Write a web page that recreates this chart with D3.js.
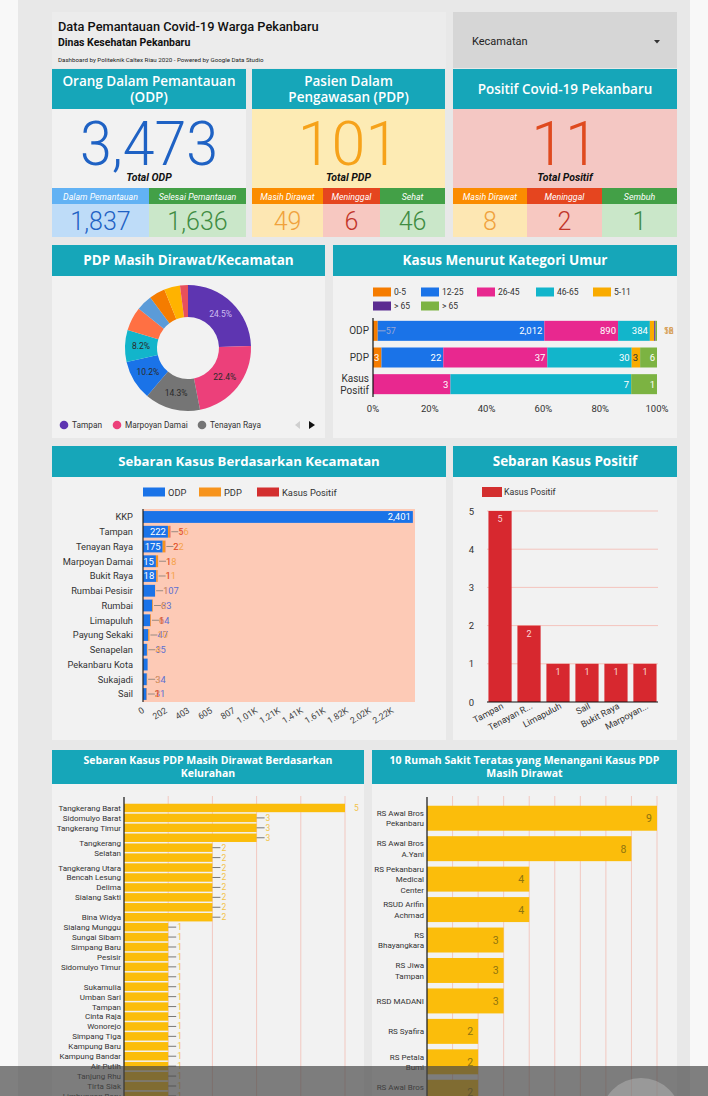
<!DOCTYPE html>
<html><head><meta charset="utf-8">
<script src="https://cdn.jsdelivr.net/npm/d3@7/dist/d3.min.js"></script>
<style>body{margin:0;background:#f8f8f8;} svg{display:block;font-family:Roboto,sans-serif;}</style>
</head><body><svg id="c" width="708" height="1096"></svg>
<script>
// ---------------- DATA ----------------
const odpTotal = 3473, pdpTotal = 101, posTotal = 11;
const odpSubLabels = ["Dalam Pemantauan", "Selesai Pemantauan"];
const odpSubValues = [1837, 1636];
const pdpSubLabels = ["Masih Dirawat", "Meninggal", "Sehat"];
const pdpSubValues = [49, 6, 46];
const posSubLabels = ["Masih Dirawat", "Meninggal", "Sembuh"];
const posSubValues = [8, 2, 1];

const donutNames = ["Tampan","Marpoyan Damai","Tenayan Raya","Bukit Raya","Rumbai Pesisir","Payung Sekaki","Limapuluh","Sail","Senapelan","Rumbai"];
const donutValues = [12, 11, 7, 5, 4, 3, 2, 2, 2, 1];
const donutLegendNames = ["Tampan","Marpoyan Damai","Tenayan Raya"];

const ageGroups = ["0-5","12-25","26-45","46-65","5-11","> 65","> 65 "];
const ageRows = ["ODP","PDP","Kasus Positif"];
const ageODP = [57, 2012, 890, 384, 52, 16, 18];
const agePDP = [3, 22, 37, 30, 3, 0, 6];
const agePos = [0, 0, 3, 7, 0, 0, 1];
const ageTicks = [0, 0.2, 0.4, 0.6, 0.8, 1];

const kecNames = ["KKP","Tampan","Tenayan Raya","Marpoyan Damai","Bukit Raya","Rumbai Pesisir","Rumbai","Limapuluh","Payung Sekaki","Senapelan","Pekanbaru Kota","Sukajadi","Sail"];
const kecODP = [2401, 222, 175, 115, 118, 107, 83, 64, 47, 35, 41, 34, 31];
const kecPDP = [0, 16, 22, 18, 11, 1, 6, 6, 10, 4, 0, 3, 2];
const kecPos = [0, 5, 2, 1, 1, 0, 0, 1, 0, 0, 0, 0, 1];
const kecMax = 2420;
const kecTicks = [0, 202, 403, 605, 807, 1008, 1210, 1412, 1613, 1815, 2017, 2218];
const kecTickLabels = ["0","202","403","605","807","1.01K","1.21K","1.41K","1.61K","1.82K","2.02K","2.22K"];

const posNames = ["Tampan","Tenayan Raya","Limapuluh","Sail","Bukit Raya","Marpoyan Damai"];
const posTickLabels = ["Tampan","Tenayan R...","Limapuluh","Sail","Bukit Raya","Marpoyan..."];
const posValues = [5, 2, 1, 1, 1, 1];
const posTicks = [0, 1, 2, 3, 4, 5];

const kelNames = ["Tangkerang Barat","Sidomulyo Barat","Tangkerang Timur","Tuah Karya","Tangkerang Selatan","Maharatu","Tangkerang Utara","Bencah Lesung","Delima","Sialang Sakti","Rejosari","Bina Widya","Sialang Munggu","Sungai Sibam","Simpang Baru","Pesisir","Sidomulyo Timur","Labuh Baru Timur","Sukamulia","Umban Sari","Tampan","Cinta Raja","Wonorejo","Simpang Tiga","Kampung Baru","Kampung Bandar","Air Putih","Tanjung Rhu","Tirta Siak","Limbungan Baru","Sri Meranti"];
const kelValues = [5,3,3,3,2,2,2,2,2,2,2,2,1,1,1,1,1,1,1,1,1,1,1,1,1,1,1,1,1,1,1];
const kelTickLabels = ["Tangkerang Barat","Sidomulyo Barat","Tangkerang Timur","","Tangkerang|Selatan","","Tangkerang Utara","Bencah Lesung","Delima","Sialang Sakti","","Bina Widya","Sialang Munggu","Sungai Sibam","Simpang Baru","Pesisir","Sidomulyo Timur","","Sukamulia","Umban Sari","Tampan","Cinta Raja","Wonorejo","Simpang Tiga","Kampung Baru","Kampung Bandar","Air Putih","Tanjung Rhu","Tirta Siak","Limbungan Baru",""];

const hospNames = ["RS Awal Bros|Pekanbaru","RS Awal Bros|A.Yani","RS Pekanbaru|Medical|Center","RSUD Arifin|Achmad","RS|Bhayangkara","RS Jiwa|Tampan","RSD MADANI","RS Syafira","RS Petala|Bumi","RS Awal Bros|Panam"];
const hospValues = [9, 8, 4, 4, 3, 3, 3, 2, 2, 2];

// ---------------- DRAW ----------------
const svg = d3.select("#c");
const W = 708, H = 1096;
const TEAL = "#16a6b9", PANEL = "#f2f2f2", TITLEFONT = "'Open Sans',sans-serif";
svg.append("rect").attr("width", W).attr("height", H).attr("fill", "#f8f8f8");
svg.append("rect").attr("x", 18).attr("width", 672).attr("height", H).attr("fill", "#e8e8e8");

function panel(x, y, w, h, lines, th, fs) {
  svg.append("rect").attr("x", x).attr("y", y).attr("width", w).attr("height", h).attr("fill", PANEL);
  svg.append("rect").attr("x", x).attr("y", y).attr("width", w).attr("height", th).attr("fill", TEAL);
  const lh = fs * 1.22, n = lines.length;
  lines.forEach((l, i) => svg.append("text").attr("x", x + w / 2)
    .attr("y", y + th / 2 + (i - (n - 1) / 2) * lh + fs * 0.36)
    .attr("text-anchor", "middle").attr("fill", "#fff").attr("font-family", TITLEFONT)
    .attr("font-weight", 700).attr("font-size", fs).text(l));
}

// header
svg.append("rect").attr("x", 52).attr("y", 12).attr("width", 394).attr("height", 56).attr("fill", "#ececec");
svg.append("text").attr("x", 58).attr("y", 31).attr("font-size", 12.8).attr("font-weight", 500).attr("fill", "#111").text("Data Pemantauan Covid-19 Warga Pekanbaru");
svg.append("text").attr("x", 58).attr("y", 46).attr("font-size", 10.5).attr("font-weight", 700).attr("fill", "#111").text("Dinas Kesehatan Pekanbaru");
svg.append("text").attr("x", 58).attr("y", 62).attr("font-size", 6.2).attr("fill", "#222").text("Dashboard by Politeknik Caltex Riau 2020 - Powered by Google Data Studio");
svg.append("rect").attr("x", 453).attr("y", 12).attr("width", 224).attr("height", 56).attr("fill", "#d6d6d6");
svg.append("text").attr("x", 472).attr("y", 45).attr("font-size", 11).attr("fill", "#222").text("Kecamatan");
svg.append("path").attr("d", "M654,40 L660,40 L657,43.5 Z").attr("fill", "#333");

// KPI cards
function kpi(x, w, lines, bg, total, numColor, label, tl, subs) {
  svg.append("rect").attr("x", x).attr("y", 69).attr("width", w).attr("height", 40).attr("fill", TEAL);
  const n = lines.length;
  lines.forEach((l, i) => svg.append("text").attr("x", x + w / 2).attr("y", 89 + (i - (n - 1) / 2) * 16 + 5)
    .attr("text-anchor", "middle").attr("fill", "#fff").attr("font-family", TITLEFONT)
    .attr("font-weight", 600).attr("font-size", 13.5).text(l));
  svg.append("rect").attr("x", x).attr("y", 109).attr("width", w).attr("height", 79).attr("fill", bg);
  const big = svg.append("text").attr("x", x + w / 2).attr("y", 165).attr("text-anchor", "middle").attr("font-size", 61)
    .attr("font-weight", 300).attr("fill", numColor).text(d3.format(",")(total));
  if (tl) big.attr("textLength", tl).attr("lengthAdjust", "spacingAndGlyphs");
  svg.append("text").attr("x", x + w / 2).attr("y", 181).attr("text-anchor", "middle").attr("font-size", 10.5)
    .attr("font-weight", 700).attr("font-style", "italic").attr("fill", "#111").text(label);
  let cx = x;
  subs.forEach(s => {
    svg.append("rect").attr("x", cx).attr("y", 188).attr("width", s.w).attr("height", 16).attr("fill", s.hdr);
    svg.append("rect").attr("x", cx).attr("y", 204).attr("width", s.w).attr("height", 33).attr("fill", s.bg);
    svg.append("text").attr("x", cx + s.w / 2).attr("y", 199.5).attr("text-anchor", "middle").attr("font-size", 8.8)
      .attr("font-style", "italic").attr("fill", "#fff").text(s.label);
    svg.append("text").attr("x", cx + s.w / 2).attr("y", 230).attr("text-anchor", "middle").attr("font-size", 25)
      .attr("font-weight", 300).attr("fill", s.color).text(d3.format(",")(s.value));
    cx += s.w;
  });
}
const BLUEH = "#62b2f4", GREENH = "#43a047", ORANGEH = "#fb8c00", REDH = "#e5451f";
kpi(52, 194, ["Orang Dalam Pemantauan", "(ODP)"], "#f2f2f2", odpTotal, "#1f62c4", "Total ODP", 138, [
  { label: odpSubLabels[0], value: odpSubValues[0], w: 97, hdr: BLUEH, bg: "#bedcf8", color: "#1f62c4" },
  { label: odpSubLabels[1], value: odpSubValues[1], w: 97, hdr: GREENH, bg: "#cae7c9", color: "#3f8c42" }]);
kpi(252, 193, ["Pasien Dalam", "Pengawasan (PDP)"], "#fdebb4", pdpTotal, "#f6a21a", "Total PDP", null, [
  { label: pdpSubLabels[0], value: pdpSubValues[0], w: 71, hdr: ORANGEH, bg: "#fde7b3", color: "#f0a23c" },
  { label: pdpSubLabels[1], value: pdpSubValues[1], w: 57, hdr: REDH, bg: "#f7c8c1", color: "#c2352a" },
  { label: pdpSubLabels[2], value: pdpSubValues[2], w: 65, hdr: GREENH, bg: "#cae7c9", color: "#3f8c42" }]);
kpi(453, 224, ["Positif Covid-19 Pekanbaru"], "#f4c7c3", posTotal, "#df4a1f", "Total Positif", null, [
  { label: posSubLabels[0], value: posSubValues[0], w: 74, hdr: ORANGEH, bg: "#fde7b3", color: "#f0a23c" },
  { label: posSubLabels[1], value: posSubValues[1], w: 75, hdr: REDH, bg: "#f7c8c1", color: "#c2352a" },
  { label: posSubLabels[2], value: posSubValues[2], w: 75, hdr: GREENH, bg: "#cae7c9", color: "#3f8c42" }]);

// ---------- Donut ----------
panel(52, 245, 273, 193, ["PDP Masih Dirawat/Kecamatan"], 31, 13.5);
const donutColors = ["#5e35b1","#ec407a","#757575","#1a73e8","#12b5cb","#ff7043","#5b9bd8","#f57c00","#ffb300","#e8505b"];
const pie = d3.pie().sort(null).value(d => d)(donutValues);
const arc = d3.arc().innerRadius(31).outerRadius(63);
const labArc = d3.arc().innerRadius(47).outerRadius(47);
const dg = svg.append("g").attr("transform", "translate(188,348)");
dg.selectAll("path").data(pie).join("path").attr("d", arc).attr("fill", (d, i) => donutColors[i]);
const dsum = d3.sum(donutValues);
dg.selectAll("text").data(pie.filter(d => d.value / dsum >= 0.08)).join("text")
  .attr("transform", d => `translate(${labArc.centroid(d)})`).attr("dy", "0.35em")
  .attr("text-anchor", "middle").attr("font-size", 8.5)
  .attr("fill", (d) => d.index === 0 ? "#cdbdf0" : "#2a2a2a")
  .text(d => d3.format(".1%")(d.value / dsum));
const legX = [64, 117, 202];
donutLegendNames.forEach((nm, i) => {
  svg.append("circle").attr("cx", legX[i]).attr("cy", 425).attr("r", 4.3).attr("fill", donutColors[i]);
  svg.append("text").attr("x", legX[i] + 8).attr("y", 428).attr("font-size", 8.3).attr("fill", "#333").text(nm);
});
svg.append("path").attr("d", "M300,421 L300,429 L295,425 Z").attr("fill", "#cfcfcf");
svg.append("path").attr("d", "M309,421 L309,429 L315,425 Z").attr("fill", "#111");

// ---------- Age chart ----------
panel(333, 245, 344, 193, ["Kasus Menurut Kategori Umur"], 31, 13.5);
const ageColors = ["#f57c00","#1a73e8","#e8288f","#12b5cb","#f9ab00","#5b2c91","#7cb342"];
const ageLegX = [373, 421, 477, 536, 593, 373, 421];
const ageLegY = [292, 292, 292, 292, 292, 306, 306];
ageGroups.forEach((g, i) => {
  svg.append("rect").attr("x", ageLegX[i]).attr("y", ageLegY[i] - 4.5).attr("width", 18).attr("height", 9).attr("fill", ageColors[i]);
  svg.append("text").attr("x", ageLegX[i] + 21).attr("y", ageLegY[i] + 3).attr("font-size", 8.5).attr("fill", "#333").text(g.trim());
});
const ageX = d3.scaleLinear().domain([0, 1]).range([373, 657]);
const ageY = d3.scaleBand().domain(ageRows).range([317.5, 397.5]).paddingInner(0.25).paddingOuter(0.125);
const ageData = [ageODP, agePDP, agePos];
const ageBarG = svg.append("g"), ageLabG = svg.append("g");
ageRows.forEach((r, ri) => {
  const vals = ageData[ri], tot = d3.sum(vals);
  let cum = 0;
  const y0 = ageY(r), bh = ageY.bandwidth();
  vals.forEach((v, gi) => {
    if (v <= 0) return;
    const x0 = ageX(cum / tot), x1 = ageX((cum + v) / tot);
    cum += v;
    ageBarG.append("rect").attr("x", x0).attr("y", y0).attr("width", x1 - x0).attr("height", bh).attr("fill", ageColors[gi]);
    const lbl = d3.format(",")(v);
    if (x1 - x0 >= 7) {
      ageLabG.append("text").attr("x", x1 - 2).attr("y", y0 + bh / 2 + 3.5).attr("text-anchor", "end").attr("font-size", 9.5)
        .attr("fill", gi === 4 ? "#333" : "#fff").text(lbl);
    } else if (x1 > 640) {
      ageLabG.append("text").attr("x", 664).attr("y", y0 + bh / 2 + 3.5).attr("font-size", 8.5).attr("fill", "#d8a25a").text(lbl);
    } else {
      ageLabG.append("line").attr("x1", x1).attr("x2", x1 + 8).attr("y1", y0 + bh / 2).attr("y2", y0 + bh / 2).attr("stroke", "#9aa6d4");
      ageLabG.append("text").attr("x", x1 + 8).attr("y", y0 + bh / 2 + 3.5).attr("font-size", 9).attr("fill", "#9aa6d4").text(lbl);
    }
  });
});
svg.append("line").attr("x1", 373).attr("x2", 373).attr("y1", 318).attr("y2", 397).attr("stroke", "#111").attr("stroke-width", 1.2);
ageRows.forEach(r => {
  const parts = r === "Kasus Positif" ? ["Kasus", "Positif"] : [r];
  parts.forEach((p, i) => svg.append("text").attr("x", 369).attr("text-anchor", "end")
    .attr("y", ageY(r) + ageY.bandwidth() / 2 + 3.5 + (i - (parts.length - 1) / 2) * 12)
    .attr("font-size", 10).attr("fill", "#333").text(p));
});
ageTicks.forEach(t => svg.append("text").attr("x", ageX(t)).attr("y", 412).attr("text-anchor", "middle")
  .attr("font-size", 9.5).attr("fill", "#333").text(d3.format(".0%")(t)));

// ---------- Kecamatan ----------
panel(52, 446, 394, 294, ["Sebaran Kasus Berdasarkan Kecamatan"], 31, 13.2);
const kx = d3.scaleLinear().domain([0, kecMax]).range([143, 415]);
const ky = d3.scaleBand().domain(kecNames).range([509.6, 701.4]).paddingInner(0.2).paddingOuter(0.1);
svg.append("rect").attr("x", 143).attr("y", 509).attr("width", 272).attr("height", 193).attr("fill", "#fdcab6");
const kecColors = ["#1a73e8", "#f7941d", "#d32f2f"];
const kecLegend = ["ODP", "PDP", "Kasus Positif"];
const kLegX = [143, 199, 257];
kecLegend.forEach((l, i) => {
  svg.append("rect").attr("x", kLegX[i]).attr("y", 487.5).attr("width", 22).attr("height", 9).attr("fill", kecColors[i]);
  svg.append("text").attr("x", kLegX[i] + 25).attr("y", 495.5).attr("font-size", 9.3).attr("fill", "#333").text(l);
});
const kRows = kecNames.map((n, i) => ({ name: n, odp: kecODP[i], pdp: kecPDP[i], pos: kecPos[i] }));
const stack = d3.stack().keys(["odp", "pdp", "pos"])(kRows);
stack.forEach((layer, li) => {
  svg.append("g").selectAll("rect").data(layer).join("rect")
    .attr("x", d => kx(d[0])).attr("width", d => kx(d[1]) - kx(d[0]))
    .attr("y", d => ky(d.data.name)).attr("height", ky.bandwidth()).attr("fill", kecColors[li]);
});
const defs = svg.append("defs");
kRows.forEach((d, i) => {
  const bw = kx(d.odp) - kx(0), yc = ky(d.name) + ky.bandwidth() / 2;
  const end = kx(d.odp + d.pdp + d.pos);
  if (bw >= 12.5) {
    defs.append("clipPath").attr("id", "kc" + i).append("rect").attr("x", kx(0)).attr("y", ky(d.name))
      .attr("width", bw).attr("height", ky.bandwidth());
    svg.append("text").attr("clip-path", `url(#kc${i})`).attr("x", kx(d.odp) - 2).attr("y", yc + 3.3)
      .attr("text-anchor", "end").attr("font-size", 9.5).attr("fill", "#fff").text(d3.format(",")(d.odp));
  }
  const outs = [];
  if (bw < 12.5) outs.push({ v: d.odp, c: "#5b6fd2" });
  if (d.pdp > 0) outs.push({ v: d.pdp, c: "#f5a24a" });
  if (d.pos > 0) outs.push({ v: d.pos, c: "#e04a35" });
  if (outs.length && d.name !== "Pekanbaru Kota" && d.name !== "Senapelan" || (d.name === "Senapelan" && d.pdp > 0)) {
    svg.append("line").attr("x1", end + 1).attr("x2", end + 8).attr("y1", yc).attr("y2", yc).attr("stroke", "#9a8a80");
    outs.forEach(o => svg.append("text").attr("x", end + 8).attr("y", yc + 3.3).attr("font-size", 9.3)
      .attr("fill", o.c).text(o.v));
  }
});
svg.append("line").attr("x1", 143).attr("x2", 143).attr("y1", 509).attr("y2", 702).attr("stroke", "#222").attr("stroke-width", 1.2);
kecNames.forEach(n => svg.append("text").attr("x", 133).attr("y", ky(n) + ky.bandwidth() / 2 + 3.3)
  .attr("text-anchor", "end").attr("font-size", 9.3).attr("fill", "#333").text(n));
kecTicks.forEach((t, i) => svg.append("text").attr("transform", `translate(${kx(t) + 2},712) rotate(-32)`)
  .attr("text-anchor", "end").attr("font-size", 8.8).attr("fill", "#444").text(kecTickLabels[i]));

// ---------- Positive ----------
panel(453, 446, 224, 294, ["Sebaran Kasus Positif"], 31, 13.5);
svg.append("rect").attr("x", 482).attr("y", 487).attr("width", 20).attr("height", 10).attr("fill", "#d32f2f");
svg.append("text").attr("x", 504).attr("y", 495).attr("font-size", 8.8).attr("fill", "#333").text("Kasus Positif");
const py = d3.scaleLinear().domain([0, 5]).range([702, 511]);
const px = d3.scaleBand().domain(posNames).range([487, 658]).paddingInner(0.2).paddingOuter(0.05);
posTicks.forEach(t => {
  if (t > 0) svg.append("line").attr("x1", 487).attr("x2", 658).attr("y1", py(t)).attr("y2", py(t)).attr("stroke", "#f4c4bd");
  svg.append("text").attr("x", 474).attr("y", py(t) + 3.5).attr("text-anchor", "end").attr("font-size", 9.5).attr("fill", "#333").text(t);
});
svg.selectAll(".pb").data(posValues).join("rect").attr("x", (d, i) => px(posNames[i])).attr("width", px.bandwidth())
  .attr("y", d => py(d)).attr("height", d => py(0) - py(d)).attr("fill", "#d7282f");
posValues.forEach((v, i) => svg.append("text").attr("x", px(posNames[i]) + px.bandwidth() / 2).attr("y", py(v) + 11)
  .attr("text-anchor", "middle").attr("font-size", 9).attr("fill", "#fbd6d6").text(v));
svg.append("line").attr("x1", 487).attr("x2", 658).attr("y1", 702).attr("y2", 702).attr("stroke", "#111").attr("stroke-width", 1.2);
posTickLabels.forEach((l, i) => svg.append("text")
  .attr("transform", `translate(${px(posNames[i]) + px.bandwidth() / 2 + 4},708) rotate(-28)`)
  .attr("text-anchor", "end").attr("font-size", 9).attr("fill", "#333").text(l));

// ---------- Kelurahan ----------
panel(52, 750, 312, 400, ["Sebaran Kasus PDP Masih Dirawat Berdasarkan", "Kelurahan"], 34, 10.5);
const lx = d3.scaleLinear().domain([0, 5]).range([124, 345]);
const ly = d3.scaleBand().domain(d3.range(kelNames.length)).range([803, 803 + 31 * 9.93]).paddingInner(0.15).paddingOuter(0.075);
[1, 2, 3, 4, 5].forEach(t => svg.append("line").attr("x1", lx(t)).attr("x2", lx(t)).attr("y1", 796).attr("y2", 1100).attr("stroke", "#f2c8c0"));
kelValues.forEach((v, i) => {
  const y0 = ly(i), bh = ly.bandwidth(), yc = y0 + bh / 2;
  svg.append("rect").attr("x", lx(0)).attr("y", y0).attr("width", lx(v) - lx(0)).attr("height", bh).attr("fill", "#fbbd0b");
  if (v < 5) svg.append("line").attr("x1", lx(v)).attr("x2", lx(v) + 8).attr("y1", yc).attr("y2", yc).attr("stroke", "#777");
  svg.append("text").attr("x", lx(v) + 9).attr("y", yc + 3).attr("font-size", 8.5).attr("fill", "#f3c349").text(v);
  const lab = kelTickLabels[i];
  if (lab) {
    const parts = lab.split("|");
    parts.forEach((p, k) => svg.append("text").attr("x", 121).attr("y", yc + 3 + (k - (parts.length - 1) / 2) * 10)
      .attr("text-anchor", "end").attr("font-size", 8).attr("fill", "#333").text(p));
  }
});
svg.append("line").attr("x1", 124).attr("x2", 124).attr("y1", 797).attr("y2", 1100).attr("stroke", "#222").attr("stroke-width", 1.3);

// ---------- Hospitals ----------
panel(372, 750, 305, 400, ["10 Rumah Sakit Teratas yang Menangani Kasus PDP", "Masih Dirawat"], 34, 10.5);
const hx = d3.scaleLinear().domain([0, 9]).range([427, 657]);
const hy = d3.scaleBand().domain(d3.range(hospNames.length)).range([803, 1107.5]).paddingInner(0.18).paddingOuter(0.09);
d3.range(1, 10).forEach(t => svg.append("line").attr("x1", hx(t)).attr("x2", hx(t)).attr("y1", 796).attr("y2", 1100).attr("stroke", "#f2c8c0"));
hospValues.forEach((v, i) => {
  const y0 = hy(i), bh = hy.bandwidth(), yc = y0 + bh / 2;
  svg.append("rect").attr("x", hx(0)).attr("y", y0).attr("width", hx(v) - hx(0)).attr("height", bh).attr("fill", "#fbbd0b");
  svg.append("text").attr("x", hx(v) - 5).attr("y", yc + 4).attr("text-anchor", "end").attr("font-size", 10.5).attr("fill", "#8f7410").text(v);
  const parts = hospNames[i].split("|");
  parts.forEach((p, k) => svg.append("text").attr("x", 424).attr("y", yc + 3 + (k - (parts.length - 1) / 2) * 10.5)
    .attr("text-anchor", "end").attr("font-size", 8).attr("fill", "#333").text(p));
});
svg.append("line").attr("x1", 427).attr("x2", 427).attr("y1", 797).attr("y2", 1100).attr("stroke", "#222").attr("stroke-width", 1.3);

// ---------- screen overlay ----------
svg.append("rect").attr("x", 0).attr("y", 1066).attr("width", W).attr("height", 30).attr("fill", "rgba(70,70,70,0.68)");
svg.append("circle").attr("cx", 641).attr("cy", 1118).attr("r", 40).attr("fill", "rgba(255,255,255,0.22)");
</script></body></html>
